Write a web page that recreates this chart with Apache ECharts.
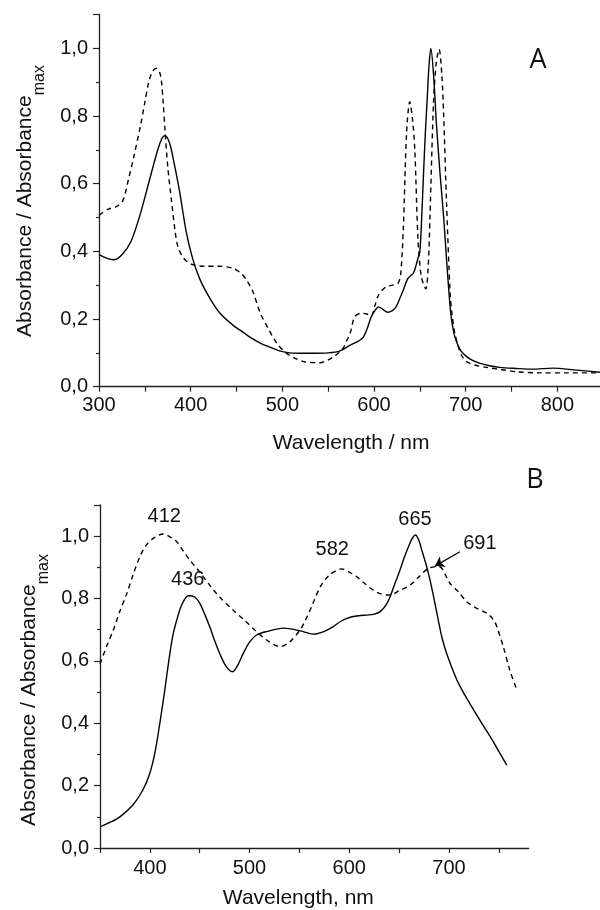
<!DOCTYPE html>
<html>
<head>
<meta charset="utf-8">
<script src="https://cdn.jsdelivr.net/npm/echarts@6/dist/echarts.min.js"></script>
<style>
html,body{margin:0;padding:0;background:#fff;}
#chart{width:600px;height:910px;}
</style>
</head>
<body>
<div id="chart"></div>
<script>
// ---------- Panel A data ----------
const aSolidX = [300,308,316,325,335,345,355,363,368,372,377,382,388,395,402,410,421,432,446,454,465,476,487,497,508,520,535,550,563,574,583,588,593,597,601,605,610,615,620,624,628,632,637,643,646,648,650,652,654,656,658,660,662,665,668,672,676,679,682,684,687,690,695,701,708,716,726,737,755,773,795,821,850];
const aSolidY = [0.39,0.38,0.375,0.39,0.43,0.51,0.61,0.69,0.73,0.742,0.72,0.66,0.576,0.46,0.38,0.318,0.261,0.217,0.182,0.167,0.146,0.129,0.116,0.106,0.100,0.099,0.099,0.100,0.106,0.123,0.135,0.145,0.175,0.207,0.225,0.236,0.228,0.22,0.225,0.236,0.26,0.286,0.32,0.336,0.36,0.38,0.40,0.50,0.63,0.75,0.85,0.95,1.0,0.92,0.78,0.63,0.50,0.38,0.27,0.21,0.16,0.133,0.105,0.089,0.077,0.069,0.062,0.057,0.054,0.052,0.055,0.049,0.042];
const aDashX = [300,310,319,326,332,338,345,350,354,358,362.5,366,368,370,372,375,379,383,386,391,396,403,415,430,446,455,461,468,476,485,494,504,514,525,541,555,566,570,574,579,586,592,597,601,605,613,620,626,629,632,635.5,639,642,644.5,648,651.6,656.5,659,661,665,668,671,674,676,679,683,685,688,692,696,701,710,723,740,756,780,810,850];
const aDashY = [0.507,0.525,0.532,0.55,0.611,0.68,0.768,0.84,0.897,0.93,0.941,0.93,0.906,0.84,0.759,0.65,0.552,0.46,0.414,0.385,0.37,0.36,0.356,0.356,0.35,0.335,0.315,0.28,0.217,0.17,0.128,0.1,0.084,0.073,0.071,0.087,0.113,0.135,0.158,0.207,0.217,0.215,0.209,0.24,0.271,0.295,0.3,0.305,0.33,0.47,0.749,0.842,0.79,0.70,0.434,0.325,0.289,0.35,0.50,0.847,0.96,0.997,0.92,0.80,0.552,0.276,0.217,0.16,0.118,0.09,0.074,0.064,0.057,0.05,0.044,0.041,0.041,0.041];

// ---------- Panel B data ----------
const bSolidX = [350,360,370,383,393,400,405,410,415,419,423,427,432,438.6,445,450,455,460,465,470,476,483,488,493.7,500,507,517,534,550,564,575,584,592,601,610,617.5,625,631,637,641,646,651,655,659.4,663,666.6,670,672.7,677,681,685,689.3,693,697.7,708,716,724.7,733,741.5,750,758];
const bSolidY = [0.068,0.082,0.10,0.138,0.186,0.24,0.304,0.40,0.507,0.60,0.68,0.731,0.78,0.809,0.805,0.785,0.75,0.71,0.665,0.624,0.585,0.565,0.585,0.624,0.66,0.683,0.694,0.705,0.697,0.686,0.695,0.71,0.728,0.74,0.745,0.747,0.75,0.758,0.78,0.806,0.85,0.892,0.93,0.966,0.992,1.004,0.985,0.956,0.91,0.86,0.80,0.731,0.675,0.624,0.539,0.49,0.443,0.40,0.357,0.31,0.266];
const bDashX = [350,357,363.4,370,377,383,390,396,403.4,413.4,420,427,433,440,450,460,470,483.4,495,507,518,530.6,540,550.6,556,563,571,580,592.4,600,607.5,615,624,632,641,650,661,670,679.5,690,701,710,717.8,727,738,745,748,754.5,761,767.5];
const bDashY = [0.59,0.65,0.699,0.76,0.817,0.875,0.934,0.97,0.993,1.007,0.998,0.982,0.955,0.924,0.885,0.843,0.805,0.763,0.73,0.694,0.665,0.646,0.66,0.699,0.73,0.78,0.838,0.875,0.895,0.885,0.87,0.85,0.827,0.815,0.811,0.825,0.843,0.87,0.897,0.903,0.849,0.82,0.79,0.77,0.753,0.73,0.71,0.646,0.571,0.512];

// peak annotations in panel B (label text, wavelength, value)
const bPeakText = ['412','436','582','665','691'];
const bPeakX = [414.5,438,583,666,731];
const bPeakY = [1.0625,0.86,0.956,1.055,0.975];
// arrow for 691 (from, to)
const bArrowX = [711,686];
const bArrowY = [0.95,0.904];

// axis tick labels
const aXTicks = [300,400,500,600,700,800];
const bXTicks = [400,500,600,700];
const yTicks = [0,0.2,0.4,0.6,0.8,1.0];

const zip = (xs, ys) => xs.map((x, i) => [x, ys[i]]);
const FONT = 'Liberation Sans, Arial, sans-serif';
const INK = '#111';

const yFmt = v => {
  const r = Math.round(v * 10) / 10;
  return yTicks.some(t => Math.abs(t - r) < 1e-6) && Math.abs(v - r) < 1e-6 ? r.toFixed(1).replace('.', ',') : '';
};
const xFmtA = v => aXTicks.indexOf(Math.round(v)) >= 0 ? String(Math.round(v)) : '';
const xFmtB = v => bXTicks.indexOf(Math.round(v)) >= 0 ? String(Math.round(v)) : '';

const axisLine = { show: true, lineStyle: { color: '#222', width: 1.3 } };

function yAxis(gridIndex) {
  return {
    type: 'value', gridIndex, min: 0, max: 1.1, interval: 0.2,
    axisLine, splitLine: { show: false },
    axisTick: { show: true, inside: false, length: 6, lineStyle: { color: '#222', width: 1.2 } },
    minorTick: { show: true, splitNumber: 2, length: 3, lineStyle: { color: '#222', width: 1.2 } },
    axisLabel: { formatter: yFmt, fontSize: 20, fontFamily: FONT, color: INK, margin: 11, showMaxLabel: false }
  };
}

const solidStyle = { color: '#000', width: 1.4 };
const dashStyle = { color: '#000', width: 1.4, type: [5, 4] };

const option = {
  backgroundColor: '#fff',
  animation: false,
  grid: [
    { left: 99, top: 14.5, width: 504.2, height: 372.2, containLabel: false, outerBoundsMode: 'none' },
    { left: 100, top: 505, width: 428.7, height: 343, containLabel: false, outerBoundsMode: 'none' }
  ],
  xAxis: [
    {
      type: 'value', gridIndex: 0, min: 300, max: 850, interval: 50,
      axisLine, splitLine: { show: false },
      axisTick: { show: true, length: 5, lineStyle: { color: '#222', width: 1.2 } },
      axisLabel: { formatter: xFmtA, fontSize: 20, fontFamily: FONT, color: INK, margin: 9, showMaxLabel: false },
      name: 'Wavelength / nm', nameLocation: 'middle', nameGap: 46,
      nameTextStyle: { fontSize: 21, fontFamily: FONT, color: INK }
    },
    {
      type: 'value', gridIndex: 1, min: 350, max: 780, interval: 50,
      axisLine, splitLine: { show: false },
      axisTick: { show: true, length: 5, lineStyle: { color: '#222', width: 1.2 } },
      axisLabel: { formatter: xFmtB, fontSize: 20, fontFamily: FONT, color: INK, margin: 10, showMaxLabel: false },
      name: 'Wavelength, nm', nameLocation: 'middle', nameGap: 40,
      nameTextStyle: { fontSize: 21, fontFamily: FONT, color: INK, padding: [0, 32, 0, 0] }
    }
  ],
  yAxis: [yAxis(0), yAxis(1)],
  graphic: [
    {
      type: 'text', x: 31, y: 201, rotation: Math.PI / 2,
      style: {
        text: '{a|Absorbance / Absorbance}{s|max}', align: 'center', verticalAlign: 'middle',
        rich: {
          a: { fontSize: 21, fontFamily: FONT, fill: INK, color: INK, lineHeight: 24, verticalAlign: 'top' },
          s: { fontSize: 16, fontFamily: FONT, fill: INK, color: INK, lineHeight: 33, verticalAlign: 'bottom' }
        }
      }
    },
    {
      type: 'text', x: 35, y: 690, rotation: Math.PI / 2,
      style: {
        text: '{a|Absorbance / Absorbance}{s|max}', align: 'center', verticalAlign: 'middle',
        rich: {
          a: { fontSize: 21, fontFamily: FONT, fill: INK, color: INK, lineHeight: 24, verticalAlign: 'top' },
          s: { fontSize: 16, fontFamily: FONT, fill: INK, color: INK, lineHeight: 33, verticalAlign: 'bottom' }
        }
      }
    },
    { type: 'text', x: 538, y: 60, style: { text: 'A', font: '27px "Open Sans", sans-serif', fill: INK, align: 'center', verticalAlign: 'middle' } },
    { type: 'text', x: 535, y: 480, style: { text: 'B', font: '27px "Open Sans", sans-serif', fill: INK, align: 'center', verticalAlign: 'middle' } }
  ],
  series: [
    { type: 'line', xAxisIndex: 0, yAxisIndex: 0, data: zip(aSolidX, aSolidY), showSymbol: false, smooth: 0.3, lineStyle: solidStyle },
    { type: 'line', xAxisIndex: 0, yAxisIndex: 0, data: zip(aDashX, aDashY), showSymbol: false, smooth: 0.3, lineStyle: dashStyle },
    { type: 'line', xAxisIndex: 1, yAxisIndex: 1, data: zip(bSolidX, bSolidY), showSymbol: false, smooth: 0.3, lineStyle: solidStyle },
    { type: 'line', xAxisIndex: 1, yAxisIndex: 1, data: zip(bDashX, bDashY), showSymbol: false, smooth: 0.3, lineStyle: dashStyle },
    {
      type: 'scatter', xAxisIndex: 1, yAxisIndex: 1, symbolSize: 0,
      data: bPeakText.map((t, i) => ({ name: t, value: [bPeakX[i], bPeakY[i]] })),
      label: { show: true, position: 'inside', formatter: '{b}', fontSize: 20, fontFamily: FONT, color: INK, opacity: 1, textBorderWidth: 0 },
      itemStyle: { opacity: 1, color: INK },
      emphasis: { disabled: true }, silent: true
    },
    {
      type: 'lines', coordinateSystem: 'cartesian2d', xAxisIndex: 1, yAxisIndex: 1,
      data: [{ coords: zip(bArrowX, bArrowY) }],
      symbol: ['none', 'arrow'], symbolSize: 9,
      lineStyle: { color: '#000', width: 1.3, opacity: 1 }, silent: true
    }
  ]
};

const chart = echarts.init(document.getElementById('chart'), null, { renderer: 'canvas' });
chart.setOption(option);
</script>
</body>
</html>
